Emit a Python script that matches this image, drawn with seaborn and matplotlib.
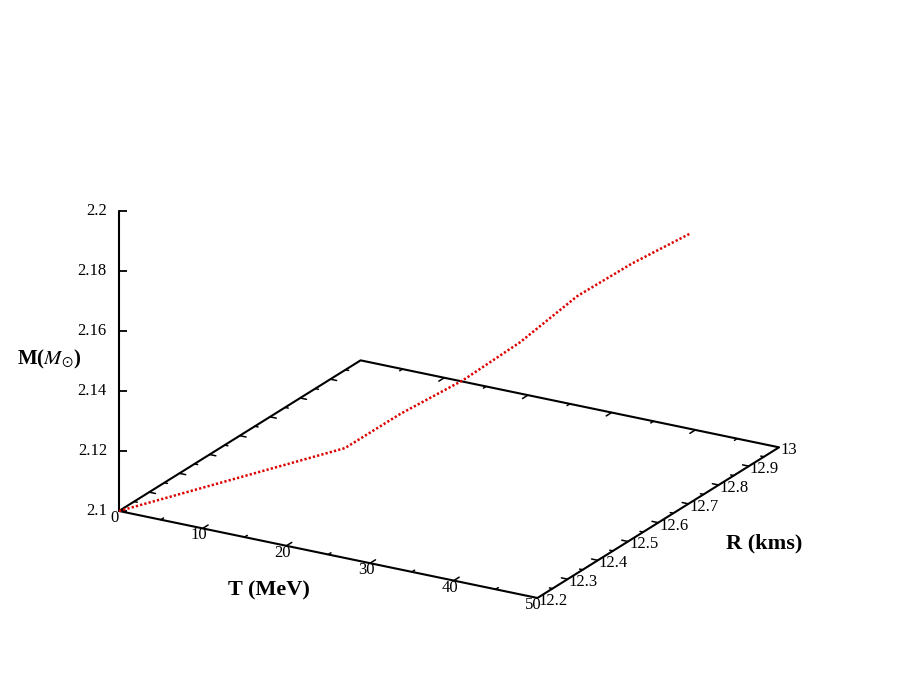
import numpy as np
import pandas as pd
import seaborn as sns
import matplotlib
matplotlib.use("Agg")
import matplotlib.pyplot as plt
from mpl_toolkits.mplot3d import proj3d

sns.set_theme(style="white")
plt.rcParams["font.family"] = ["Liberation Serif", "DejaVu Serif"]
plt.rcParams["mathtext.fontset"] = "stix"
plt.rcParams["text.color"] = "black"

# curve (T in MeV, R in kms, M in solar masses)
t_mev = [0, 10, 20, 25, 30, 35, 40, 45, 50]
r_kms = [12.200, 12.297, 12.394, 12.438, 12.508, 12.558, 12.609, 12.652, 12.706]
m_sun = [2.1000, 2.1102, 2.1204, 2.1319, 2.1417, 2.1541, 2.1692, 2.1803, 2.1898]

# axes
t_ticks = [0, 10, 20, 30, 40, 50]
t_minor = [5, 15, 25, 35, 45]
r_ticks = [12.2, 12.3, 12.4, 12.5, 12.6, 12.7, 12.8, 12.9, 13.0]
r_minor = [12.25, 12.35, 12.45, 12.55, 12.65, 12.75, 12.85, 12.95]
m_ticks = [2.1, 2.12, 2.14, 2.16, 2.18, 2.2]
t_lim = (0, 50)
r_lim = (12.2, 13.0)
m_lim = (2.1, 2.2)

df = pd.DataFrame({"T": t_mev, "R": r_kms, "M": m_sun})

W, H = 900, 675
fig = plt.figure(figsize=(9, 6.75), dpi=100)
fig.patch.set_facecolor("white")
side = 600
ax = fig.add_axes([(W - side) / 2 / W, (H - side) / 2 / H, side / W, side / H],
                  projection="3d", proj_type="ortho")
ax.set_xlim(*t_lim)
ax.set_ylim(*r_lim)
ax.set_zlim(*m_lim)
ax.set_xticks([])
ax.set_yticks([])
ax.set_zticks([])
ax.set_box_aspect((1, 1, 0.665))
ax.view_init(elev=21.1, azim=-60)
ax.set_axis_off()
ax.computed_zorder = False


def to_px(x, y, z):
    px, py, _ = proj3d.proj_transform(x, y, z, ax.get_proj())
    return np.array(ax.transData.transform((px, py)))


# fit the projected base box onto the place it has in the reference
fig.canvas.draw()
p0 = to_px(t_lim[0], r_lim[0], m_lim[0])
p1 = to_px(t_lim[1], r_lim[1], m_lim[0])
q0 = np.array([119.0, H - 511.0])
q1 = np.array([779.0, H - 447.0])
k = np.linalg.norm(q1 - q0) / np.linalg.norm(p1 - p0)
bb = ax.get_position().transformed(fig.transFigure)
c0 = np.array([(bb.x0 + bb.x1) / 2, (bb.y0 + bb.y1) / 2])
c1 = q0 - k * (p0 - c0)
s1 = k * bb.width
ax.set_position([(c1[0] - s1 / 2) / W, (c1[1] - s1 / 2) / H, s1 / W, s1 / H])
fig.canvas.draw()

frame = dict(color="black", lw=1.5, clip_on=False, zorder=2, solid_capstyle="round")
t0, t1 = t_lim
r0, r1 = r_lim
z0, z1 = m_lim

# base plane border
ax.plot([t0, t1, t1, t0, t0], [r0, r0, r1, r1, r0], [z0] * 5, **frame)
# vertical axis
ax.plot([t0, t0], [r0, r0], [z0, z1], **frame)

tick_t = 0.75     # tick length along T (MeV)
tick_r = 0.018    # tick length along R (kms)
thin = dict(color="black", lw=1.1, clip_on=False, zorder=2)

for t in t_ticks[1:-1]:
    ax.plot([t, t], [r0, r0 + tick_r], [z0, z0], **thin)
    ax.plot([t, t], [r1, r1 - tick_r], [z0, z0], **thin)
for t in t_minor:
    ax.plot([t, t], [r0, r0 + tick_r / 2], [z0, z0], **thin)
    ax.plot([t, t], [r1, r1 - tick_r / 2], [z0, z0], **thin)
for r in r_ticks[1:-1]:
    ax.plot([t1, t1 - tick_t], [r, r], [z0, z0], **thin)
    ax.plot([t0, t0 + tick_t], [r, r], [z0, z0], **thin)
for r in r_minor:
    ax.plot([t1, t1 - tick_t / 2], [r, r], [z0, z0], **thin)
    ax.plot([t0, t0 + tick_t / 2], [r, r], [z0, z0], **thin)
ax.plot([t0] * len(m_ticks), [r0] * len(m_ticks), m_ticks, ls="none",
        marker=1, ms=6, mew=1.3, color="black", clip_on=False, zorder=2)

# tick labels, placed where the 3D axes projects each tick
fs = 12


def label_at(x, y, z, s, dx, dy, ha):
    px, py = to_px(x, y, z)
    fig.text((px + dx) / W, (py + dy) / H, s, ha=ha, va="center",
             fontsize=fs, color="black")


for t in t_ticks:
    label_at(t, r0, z0, f"{t:g}", -4, -7, "center")
for r in r_ticks:
    label_at(t1, r, z0, f"{r:g}", 1, -3, "left")
for m in m_ticks:
    label_at(t0, r0, m, f"{m:g}", -12, 0, "right")

# the curve
ax.plot(df["T"], df["R"], df["M"], color="#dd0000", lw=1.8,
        ls=(0, (0.9, 0.85)), clip_on=False, zorder=3)

# axis titles
fig.text(269 / W, 1 - 590 / H, "T (MeV)", ha="center", va="center",
         fontsize=16, fontweight="bold", color="black")
fig.text(764 / W, 1 - 543 / H, "R (kms)", ha="center", va="center",
         fontsize=16, fontweight="bold", color="black")
fig.text(49 / W, 1 - 359 / H, r"M($M_{\odot}$)", ha="center", va="center",
         fontsize=15, fontweight="bold", color="black")

fig.savefig("out.png", dpi=100, facecolor="white")
